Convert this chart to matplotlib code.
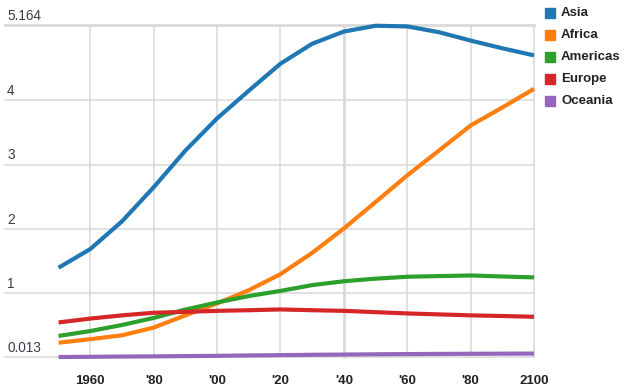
import matplotlib
matplotlib.use("Agg")
import matplotlib.pyplot as plt
from matplotlib.patches import Rectangle

years = [1950, 1960, 1970, 1980, 1990, 2000, 2010, 2020, 2030, 2040, 2050, 2060, 2070, 2080, 2090, 2100]
asia = [1.40, 1.69, 2.12, 2.65, 3.22, 3.72, 4.15, 4.57, 4.88, 5.07, 5.16, 5.15, 5.06, 4.93, 4.81, 4.70]
africa = [0.235, 0.29, 0.35, 0.47, 0.66, 0.845, 1.05, 1.30, 1.63, 2.01, 2.42, 2.835, 3.22, 3.61, 3.89, 4.18]
americas = [0.34, 0.416, 0.51, 0.62, 0.75, 0.86, 0.96, 1.04, 1.13, 1.19, 1.23, 1.26, 1.27, 1.28, 1.264, 1.25]
europe = [0.55, 0.61, 0.66, 0.70, 0.715, 0.73, 0.74, 0.752, 0.74, 0.73, 0.71, 0.69, 0.675, 0.66, 0.65, 0.638]
oceania = [0.013, 0.016, 0.020, 0.023, 0.027, 0.031, 0.037, 0.042, 0.047, 0.051, 0.055, 0.058, 0.061, 0.063, 0.065, 0.066]

series_names = ["Asia", "Africa", "Americas", "Europe", "Oceania"]
series_values = [asia, africa, americas, europe, oceania]
colors = ["#1f77b4", "#ff7f0e", "#2ca02c", "#d62728", "#9467bd"]

y_ticks = [0.013, 1, 2, 3, 4, 5.164]
y_labels = ["0.013", "1", "2", "3", "4", "5.164"]
x_ticks = [1960, 1980, 2000, 2020, 2040, 2060, 2080, 2100]
x_labels = ["1960", "'80", "'00", "'20", "'40", "'60", "'80", "2100"]

W, H = 631, 391
fig = plt.figure(figsize=(W / 100, H / 100), dpi=100)
plt.rcParams['font.family'] = ['Liberation Sans', 'DejaVu Sans']

left_px, right_px = 5, 534
top_px, bottom_px = 25.5, 357
ax = fig.add_axes([left_px / W, 1 - bottom_px / H, (right_px - left_px) / W, (bottom_px - top_px) / H])
px_per_year = 63.33 / 20
x0 = 1950 - (58.5 - left_px) / px_per_year
ax.set_xlim(x0, 2100)
ax.set_ylim(y_ticks[0], y_ticks[-1])
for s in ax.spines.values():
    s.set_visible(False)

grid_c = "#d9d9d9"
for v in y_ticks:
    lw = 2.0 if v == y_ticks[-1] else 1.1
    ax.axhline(v, color=grid_c, lw=lw, zorder=1, clip_on=False)
for xv in x_ticks:
    lw = 2.0 if xv == 2040 else 1.1
    ax.axvline(xv, color=grid_c, lw=lw, zorder=1, clip_on=False)

for name, vals, c in zip(series_names, series_values, colors):
    ax.plot(years, vals, color=c, lw=3, zorder=3, clip_on=False, solid_capstyle='butt')

ax.set_yticks([])
ax.set_xticks(x_ticks)
ax.set_xticklabels(x_labels, fontsize=9.5, fontweight='bold', color="#222222")
ax.tick_params(axis='x', length=0, pad=13)

for v, lab in zip(y_ticks, y_labels):
    ax.annotate(lab, xy=(7, v), xycoords=('figure pixels', 'data'),
                xytext=(0, 1.8), textcoords='offset points',
                ha='left', va='bottom', fontsize=9.8, color="#3a3a4a")

# legend
leg_y = [13, 35, 57, 79, 101]
for name, c, yy in zip(series_names, colors, leg_y):
    fig.patches.append(Rectangle(((545) / W, 1 - (yy + 5) / H), 10 / W, 10 / H,
                                 transform=fig.transFigure, color=c, figure=fig))
    fig.text(561 / W, 1 - yy / H, name, ha='left', va='center', fontsize=9.5,
             fontweight='bold', color="#222222")

fig.savefig("out.png", dpi=100)
